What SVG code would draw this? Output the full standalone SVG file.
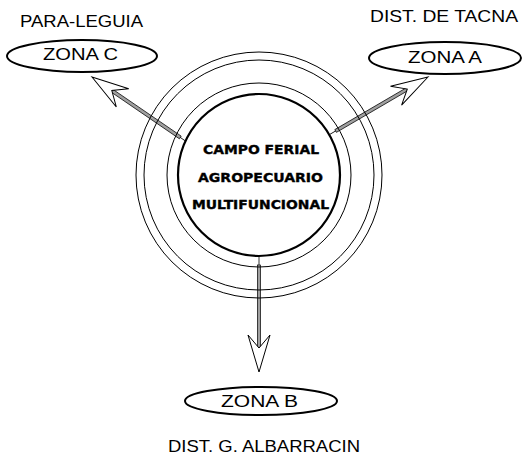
<svg xmlns="http://www.w3.org/2000/svg" width="524" height="469" viewBox="0 0 524 469">
<style>
.bg{fill:#fff}
.ring{fill:none;stroke:#000;stroke-width:1}
.core{fill:#fff;stroke:#000;stroke-width:2.2}
.zone{fill:#fff;stroke:#000;stroke-width:2}
.lbl{font-family:"Liberation Sans",Arial,sans-serif;font-size:16.5px;fill:#000}
.ctr{font-family:"DejaVu Sans","Liberation Sans",sans-serif;font-weight:bold;font-size:11.5px;fill:#000;stroke:#000;stroke-width:0.35}
.shaft{fill:#a0a0a0;stroke:#000;stroke-width:0.7}
.lead{stroke:#000;stroke-width:0.8;fill:none}
.head{fill:#fff;stroke:#000;stroke-width:1;stroke-linejoin:miter}
</style>
<defs>
<g id="arrow">
<line class="lead" x1="-115" y1="0" x2="-106" y2="0"/>
<rect class="shaft" x="-107" y="-1.6" width="84" height="3.2"/>
<polygon class="head" points="0,0 -37,-11 -24,0 -37,11"/>
</g>
</defs>
<rect class="bg" x="0" y="0" width="524" height="469"/>
<g id="connectors">
<use href="#arrow" transform="translate(92,77) rotate(-145.6)"/>
<use href="#arrow" transform="translate(428,77) rotate(-30.3)"/>
<use href="#arrow" transform="translate(259,372) rotate(90)"/>
</g>
<g id="center">
<circle class="ring" cx="259" cy="175" r="123"/>
<circle class="ring" cx="259" cy="175" r="115"/>
<circle class="ring" cx="259" cy="175" r="92"/>
<circle class="core" cx="259" cy="175" r="81"/>
<text class="ctr" x="203" y="154" textLength="116" lengthAdjust="spacingAndGlyphs">CAMPO FERIAL</text>
<text class="ctr" x="198" y="182" textLength="125" lengthAdjust="spacingAndGlyphs">AGROPECUARIO</text>
<text class="ctr" x="192" y="209" textLength="137" lengthAdjust="spacingAndGlyphs">MULTIFUNCIONAL</text>
</g>
<g id="zona-c">
<text class="lbl" x="20" y="27" textLength="123" lengthAdjust="spacingAndGlyphs">PARA-LEGUIA</text>
<ellipse class="zone" cx="82" cy="56" rx="75" ry="16"/>
<text class="lbl" x="43" y="60" textLength="75" lengthAdjust="spacingAndGlyphs">ZONA C</text>
</g>
<g id="zona-a">
<text class="lbl" x="370" y="22" textLength="148" lengthAdjust="spacingAndGlyphs">DIST. DE TACNA</text>
<ellipse class="zone" cx="445" cy="58" rx="76" ry="16"/>
<text class="lbl" x="408" y="63" textLength="74" lengthAdjust="spacingAndGlyphs">ZONA A</text>
</g>
<g id="zona-b">
<ellipse class="zone" cx="261" cy="401" rx="76" ry="14"/>
<text class="lbl" x="221" y="407" textLength="77" lengthAdjust="spacingAndGlyphs">ZONA B</text>
<text class="lbl" x="168" y="452" textLength="192" lengthAdjust="spacingAndGlyphs">DIST. G. ALBARRACIN</text>
</g>
</svg>
